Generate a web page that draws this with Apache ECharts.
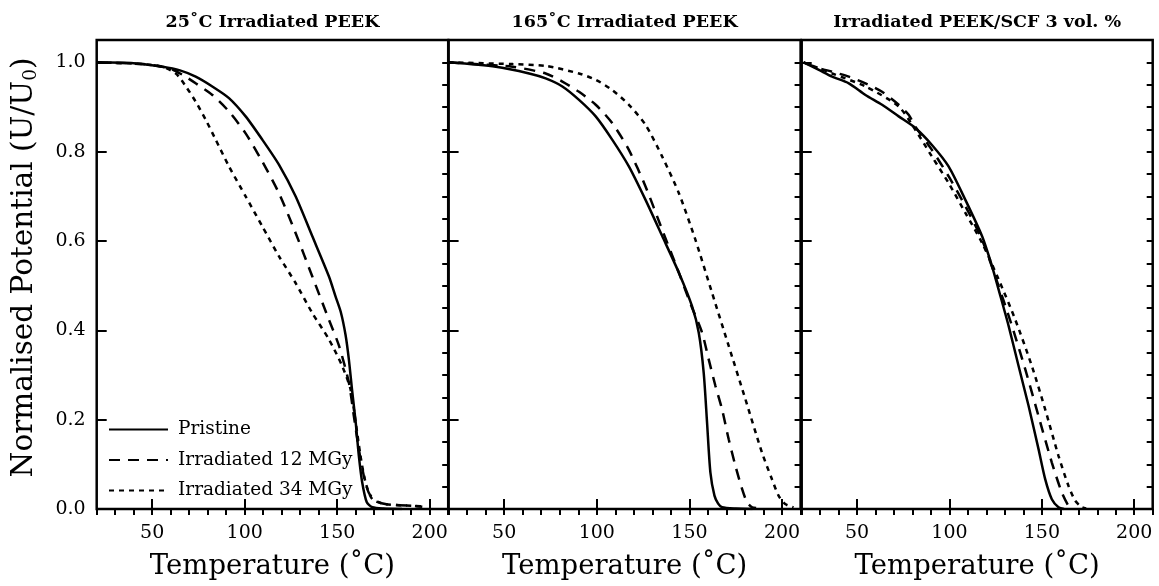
<!DOCTYPE html>
<html>
<head>
<meta charset="utf-8">
<script src="https://cdn.jsdelivr.net/npm/echarts@6/dist/echarts.min.js"></script>
<style>
  html, body { margin: 0; padding: 0; background: #fff; }
  #chart { width: 1159px; height: 586px; }
</style>
</head>
<body>
<div id="chart"></div>
<script>
const SERIES_NAMES = ['Pristine', 'Irradiated 12 MGy', 'Irradiated 34 MGy']
const PANEL_TITLES = ['25˚C Irradiated PEEK', '165˚C Irradiated PEEK', 'Irradiated PEEK/SCF 3 vol. %']
const X_TICKS = [50, 100, 150, 200]
const Y_TICKS = [0, 0.2, 0.4, 0.6, 0.8, 1.0]

// [temperature, U/U0]
const P1_PRISTINE = [[20, 1.0], [40, 0.998], [55.6, 0.99], [65, 0.982], [73.5, 0.968], [82.5, 0.946], [91.5, 0.92], [100.5, 0.879], [109.5, 0.827], [118.5, 0.771], [127.5, 0.7], [136.5, 0.611], [145.5, 0.521], [149, 0.477], [152, 0.44], [154.5, 0.39], [156.3, 0.335], [158, 0.268], [160, 0.194], [161.7, 0.119], [163.5, 0.06], [166, 0.015], [169, 0.004], [175, 0.001], [185, 0]]
const P1_12MGY = [[20, 1.0], [45, 0.996], [59, 0.987], [66.4, 0.972], [73.5, 0.953], [82.5, 0.927], [91.5, 0.89], [100.5, 0.841], [109.5, 0.778], [118.5, 0.707], [127.5, 0.618], [136.5, 0.521], [145.5, 0.424], [151, 0.365], [156.3, 0.283], [159, 0.208], [161.7, 0.134], [164.4, 0.074], [167, 0.037], [170.7, 0.019], [176, 0.011], [190.5, 0.007], [196, 0.005]]
const P1_34MGY = [[20, 1.0], [45, 0.996], [55.6, 0.99], [62.8, 0.975], [68.2, 0.946], [73.5, 0.912], [79, 0.871], [84.3, 0.827], [91.5, 0.767], [100.5, 0.7], [109.5, 0.633], [118.5, 0.566], [127.5, 0.506], [136.5, 0.439], [145.5, 0.38], [152.7, 0.32], [157.2, 0.268], [160, 0.194], [162.6, 0.119], [165.3, 0.06], [169, 0.022], [176, 0.011], [192, 0.007], [198, 0.005]]

const P2_PRISTINE = [[20, 1.0], [45.5, 0.99], [63.5, 0.975], [72.4, 0.964], [81.4, 0.946], [90.4, 0.916], [99.4, 0.879], [108.3, 0.827], [117.3, 0.767], [126.3, 0.692], [135.3, 0.611], [144.3, 0.529], [151.4, 0.454], [155, 0.395], [157.7, 0.305], [159.5, 0.194], [161.3, 0.082], [163.5, 0.03], [165.5, 0.012], [167.6, 0.004], [175, 0.001], [184, 0]]
const P2_12MGY = [[20, 1.0], [54.5, 0.99], [72.4, 0.975], [81.4, 0.957], [90.4, 0.934], [99.4, 0.905], [108.3, 0.864], [117.3, 0.804], [126.3, 0.722], [135.3, 0.625], [144.3, 0.529], [151, 0.455], [156.8, 0.395], [160.4, 0.335], [164, 0.276], [167.6, 0.223], [171.2, 0.156], [174.8, 0.097], [178.4, 0.045], [181.1, 0.015], [183.8, 0.004], [186, 0.002]]
const P2_34MGY = [[20, 1.0], [54.5, 0.996], [72.4, 0.992], [90.4, 0.975], [99.4, 0.961], [108.3, 0.938], [117.3, 0.905], [126.3, 0.86], [135.3, 0.789], [144.3, 0.707], [153.2, 0.603], [162.2, 0.484], [171.2, 0.365], [180.2, 0.246], [189.1, 0.127], [194.5, 0.067], [198.1, 0.03], [201.7, 0.011], [206.2, 0.004]]

const P3_PRISTINE = [[21, 1.0], [29.3, 0.983], [36.5, 0.968], [45.5, 0.953], [54.5, 0.927], [63.5, 0.905], [72.5, 0.879], [81.5, 0.853], [90.5, 0.815], [99.5, 0.767], [108.6, 0.692], [117.6, 0.611], [123, 0.544], [126.6, 0.491], [132, 0.41], [137.4, 0.32], [142.8, 0.231], [148.2, 0.134], [151.8, 0.067], [155.4, 0.022], [159, 0.004], [162, 0]]
const P3_12MGY = [[21, 1.0], [29.3, 0.987], [36.5, 0.979], [45.5, 0.968], [54.5, 0.953], [63.5, 0.934], [72.5, 0.905], [78, 0.882], [81.5, 0.856], [90.5, 0.804], [99.5, 0.745], [108.6, 0.678], [117.6, 0.603], [126.6, 0.499], [133.8, 0.41], [141, 0.313], [148.2, 0.208], [155.4, 0.104], [160.8, 0.037], [164.4, 0.007], [166, 0.002]]
const P3_34MGY = [[21, 1.0], [36.5, 0.975], [54.5, 0.946], [72.5, 0.901], [81.5, 0.849], [90.5, 0.789], [99.5, 0.73], [108.6, 0.663], [117.6, 0.596], [126.6, 0.514], [135.6, 0.424], [144.6, 0.32], [151.8, 0.223], [159, 0.119], [164.4, 0.052], [168, 0.019], [171.6, 0.004], [174, 0.001]]

const PANEL_DATA = [
  [P1_PRISTINE, P1_12MGY, P1_34MGY],
  [P2_PRISTINE, P2_12MGY, P2_34MGY],
  [P3_PRISTINE, P3_12MGY, P3_34MGY],
]

const FONT = 'DejaVu Serif'
const LINE_TYPES = ['solid', [11, 8], [5, 5]]
const GRIDS = [
  { left: 96.7, width: 351.5 },
  { left: 448.6, width: 352 },
  { left: 801.7, width: 351 },
]

const chart = echarts.init(document.getElementById('chart'), null, { renderer: 'canvas' })

const grid = GRIDS.map((g) => ({
  left: g.left,
  width: g.width,
  top: 40,
  height: 470,
  show: true,
  borderColor: '#000',
  borderWidth: 2.5,
  backgroundColor: 'transparent',
}))

const xAxis = []
const yAxis = []
GRIDS.forEach((g, i) => {
  xAxis.push({
    type: 'value',
    gridIndex: i,
    min: 20,
    max: 210,
    name: 'Temperature (˚C)',
    nameLocation: 'middle',
    nameGap: 44,
    nameTextStyle: { fontFamily: FONT, fontSize: 27.5, color: '#000' },
    axisLine: { show: false },
    splitLine: { show: false },
    axisTick: { inside: true, length: 10, customValues: X_TICKS, lineStyle: { color: '#000', width: 2 } },
    axisLabel: { customValues: X_TICKS, margin: 15, fontFamily: FONT, fontSize: 19, color: '#000' },
  })
  // minor ticks every 10
  xAxis.push({
    type: 'value',
    gridIndex: i,
    min: 20,
    max: 210,
    interval: 10,
    axisLine: { show: false },
    splitLine: { show: false },
    axisLabel: { show: false },
    axisTick: { inside: true, length: 6, lineStyle: { color: '#000', width: 2 } },
  })
  yAxis.push({
    type: 'value',
    gridIndex: i,
    min: 0,
    max: 1.05,
    name: i === 0 ? 'Normalised Potential (U/U{sub|0})' : '',
    nameLocation: 'middle',
    nameGap: 56,
    nameTextStyle: {
      fontFamily: FONT,
      fontSize: 29.5,
      color: '#000',
      padding: [0, 0, 0, 14],
      rich: { sub: { fontFamily: FONT, fontSize: 18.5, color: '#000', verticalAlign: 'bottom', padding: [14, 0, 0, 0] } },
    },
    axisLine: { show: false },
    splitLine: { show: false },
    axisTick: { inside: true, length: 10, customValues: Y_TICKS, lineStyle: { color: '#000', width: 2 } },
    axisLabel: {
      show: i === 0,
      customValues: Y_TICKS,
      margin: 11,
      fontFamily: FONT,
      fontSize: 19,
      color: '#000',
      formatter: (v) => v.toFixed(1),
    },
  })
  // minor ticks every 0.05
  yAxis.push({
    type: 'value',
    gridIndex: i,
    min: 0,
    max: 1.05,
    interval: 0.05,
    axisLine: { show: false },
    splitLine: { show: false },
    axisLabel: { show: false },
    axisTick: { inside: true, length: 6, lineStyle: { color: '#000', width: 2 } },
  })
})

const series = []
PANEL_DATA.forEach((panel, i) => {
  panel.forEach((data, k) => {
    series.push({
      name: SERIES_NAMES[k],
      type: 'line',
      xAxisIndex: 2 * i,
      yAxisIndex: 2 * i,
      data,
      smooth: 0.25,
      symbol: 'none',
      showSymbol: false,
      z: 3 - k,
      lineStyle: { color: '#000', width: 2.5, type: LINE_TYPES[k] },
      itemStyle: { color: '#000' },
    })
  })
})

chart.setOption({
  animation: false,
  backgroundColor: '#fff',
  title: PANEL_TITLES.map((text, i) => ({
    text,
    left: GRIDS[i].left + GRIDS[i].width / 2,
    top: 13,
    textAlign: 'center',
    padding: 0,
    textStyle: { fontFamily: FONT, fontSize: 17.5, fontWeight: 'bold', color: '#000' },
  })),
  legend: {
    orient: 'vertical',
    left: 108,
    top: 420,
    padding: 0,
    itemWidth: 59,
    itemHeight: 14,
    itemGap: 11.5,
    data: SERIES_NAMES,
    itemStyle: { opacity: 0 },
    textStyle: { fontFamily: FONT, fontSize: 18.5, color: '#000', padding: [0, 0, 0, 5] },
  },
  grid,
  xAxis,
  yAxis,
  series,
})
</script>
</body>
</html>
